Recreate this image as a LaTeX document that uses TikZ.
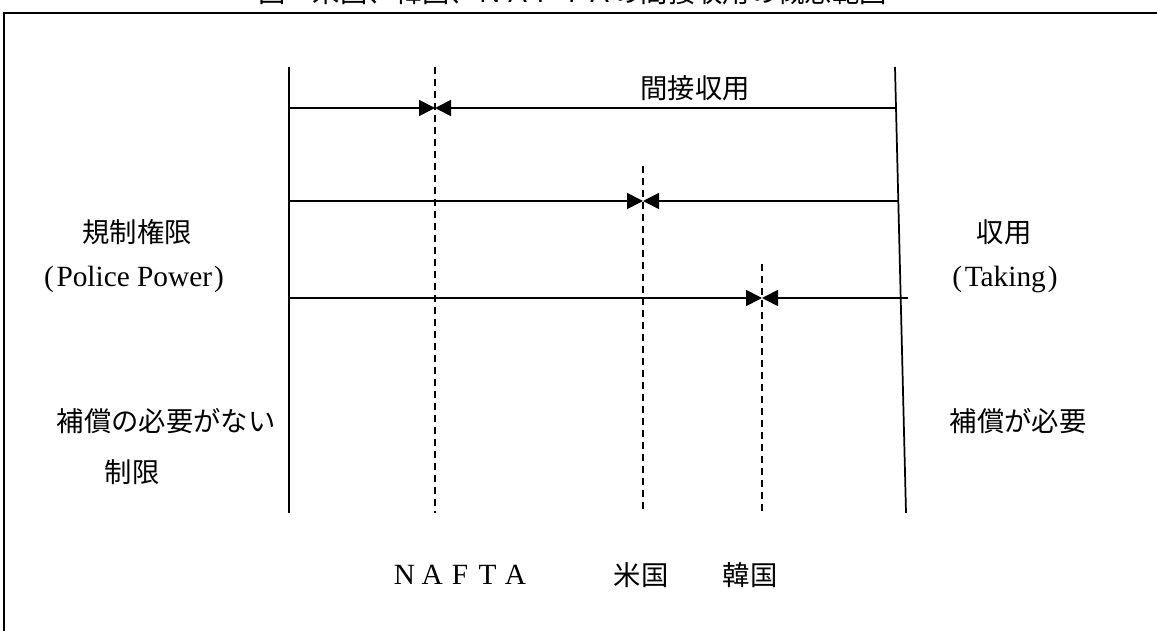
\documentclass[tikz,border=0pt]{standalone}
\usepackage{fontspec}
\newfontfamily\cjk{Noto Sans CJK JP}
\newfontfamily\lat{Liberation Serif}
\usetikzlibrary{arrows.meta}
\newcommand{\fw}[1]{\makebox[20.8pt]{#1}}
\begin{document}
\begin{tikzpicture}[x=0.75pt,y=-0.75pt,
  solidline/.style={line width=1.3pt},
  dashline/.style={line width=1.2pt, dash pattern=on 5pt off 4pt},
  arr/.style={line width=1.3pt, -{Triangle[length=12pt,width=12pt]}},
  lbl/.style={font=\fontsize{20.5}{24}\selectfont, inner sep=0pt},
  latlbl/.style={font=\lat\fontsize{22}{26}\selectfont, inner sep=0pt},
  ]
\useasboundingbox (0,0) rectangle (1157,631);
% frame (partly cropped)
\draw[line width=1.6pt] (4,631) -- (4,13) -- (1157,13);
% cropped title
\node[lbl, anchor=base west] (title) at (258,3) {\cjk 図　米国、韓国、ＮＡＦＴＡの間接収用の概念範囲};
% main verticals
\coordinate (LT) at (289,67);  \coordinate (LB) at (289,513);
\coordinate (RT) at (895,67);  \coordinate (RB) at (906,513);
\draw[solidline] (LT) -- (LB);
\draw[solidline] (RT) -- (RB);
% dashed verticals
\coordinate (D1T) at (435,67);  \coordinate (D1B) at (435,513);
\coordinate (D2T) at (643,166); \coordinate (D2B) at (643,513);
\coordinate (D3T) at (762,264); \coordinate (D3B) at (762,513);
\draw[dashline] (D1T) -- (D1B);
\draw[dashline] (D2T) -- (D2B);
\draw[dashline] (D3T) -- (D3B);
% arrow rows
\coordinate (L1) at (289,108); \coordinate (M1) at (435,108); \coordinate (R1) at (896,108);
\coordinate (L2) at (289,201); \coordinate (M2) at (643,201); \coordinate (R2) at (898,201);
\coordinate (L3) at (289,298); \coordinate (M3) at (762,298); \coordinate (R3) at (908,298);
\draw[arr] (L1) -- (M1);
\draw[arr] (R1) -- (M1);
\draw[arr] (L2) -- (M2);
\draw[arr] (R2) -- (M2);
\draw[arr] (L3) -- (M3);
\draw[arr] (R3) -- (M3);
% labels
\node[lbl] (kansetsu) at (695,88) {\cjk 間接収用};
\node[lbl] (kisei) at (137,232) {\cjk 規制権限};
\node[latlbl] (police) at (134,279) {(\kern2pt Police Power\kern1.5pt)};
\node[lbl] (shuyo) at (1004,232) {\cjk 収用};
\node[latlbl] (taking) at (1005,279) {(\kern2pt Taking\kern1.5pt)};
\node[lbl] (hosho1) at (166,421) {\cjk 補償の必要がない};
\node[lbl] (seigen) at (132,472) {\cjk 制限};
\node[lbl] (hosho2) at (1018,421) {\cjk 補償が必要};
\node[latlbl] (nafta) at (460,575) {\fw{N}\fw{A}\fw{F}\fw{T}\fw{A}};
\node[lbl] (beikoku) at (641,575) {\cjk 米国};
\node[lbl] (kankoku) at (750,575) {\cjk 韓国};
\end{tikzpicture}
\end{document}
